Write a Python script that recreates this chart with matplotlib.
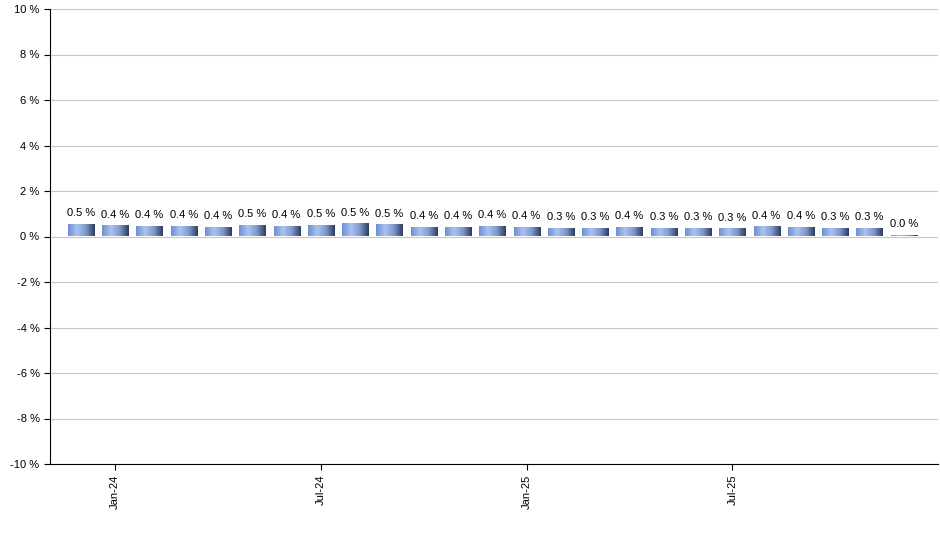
import matplotlib
matplotlib.use("Agg")
import matplotlib.pyplot as plt
import numpy as np
from matplotlib.colors import LinearSegmentedColormap

plt.rcParams["font.family"] = ["Arial", "Liberation Sans", "DejaVu Sans"]

months = ["Dec-23", "Jan-24", "Feb-24", "Mar-24", "Apr-24", "May-24", "Jun-24",
          "Jul-24", "Aug-24", "Sep-24", "Oct-24", "Nov-24", "Dec-24", "Jan-25",
          "Feb-25", "Mar-25", "Apr-25", "May-25", "Jun-25", "Jul-25", "Aug-25",
          "Sep-25", "Oct-25", "Nov-25", "Dec-25"]
values = [0.52, 0.44, 0.42, 0.41, 0.38, 0.47, 0.43, 0.47, 0.53, 0.49, 0.39, 0.38,
          0.42, 0.37, 0.32, 0.33, 0.36, 0.33, 0.32, 0.31, 0.40, 0.39, 0.33, 0.34, 0.02]
shown_ticks = ["Jan-24", "Jul-24", "Jan-25", "Jul-25"]

fig = plt.figure(figsize=(9.4, 5.5), dpi=100)
ax = fig.add_axes([50 / 940, 1 - 464 / 550, 888 / 940, 455 / 550])

x = np.arange(len(values))
w = 0.76
cmap = LinearSegmentedColormap.from_list("bar", ["#6f8fd0", "#a9c3f2", "#7f99cc", "#2e3d5c"])
grad = np.linspace(0, 1, 64).reshape(1, -1)
bars = ax.bar(x, values, width=w, color="none", zorder=3)
for b, v in zip(bars, values):
    x0 = b.get_x()
    ax.imshow(grad, cmap=cmap, aspect="auto", extent=[x0, x0 + w, 0, v],
              zorder=3, interpolation="bilinear")
    ax.text(b.get_x() + w / 2, v + 0.3, f"{v:.1f} %", ha="center", va="bottom",
            fontsize=8, zorder=4)

ax.set_xlim(-0.9, 25.0)
ax.set_ylim(-10, 10)
ax.set_yticks(np.arange(-10, 11, 2))
ax.set_yticklabels([f"{t} %" for t in range(-10, 11, 2)], fontsize=8)
ax.grid(True, axis="y", color="#c8c8c8", linewidth=0.8, zorder=0)
ax.set_axisbelow(True)

tick_pos = [months.index(m) for m in shown_ticks]
ax.set_xticks(tick_pos)
ax.set_xticklabels(shown_ticks, rotation=90, fontsize=8)
ax.tick_params(axis="both", length=4)

for s in ["top", "right"]:
    ax.spines[s].set_visible(False)

fig.savefig("out.png", dpi=100)
